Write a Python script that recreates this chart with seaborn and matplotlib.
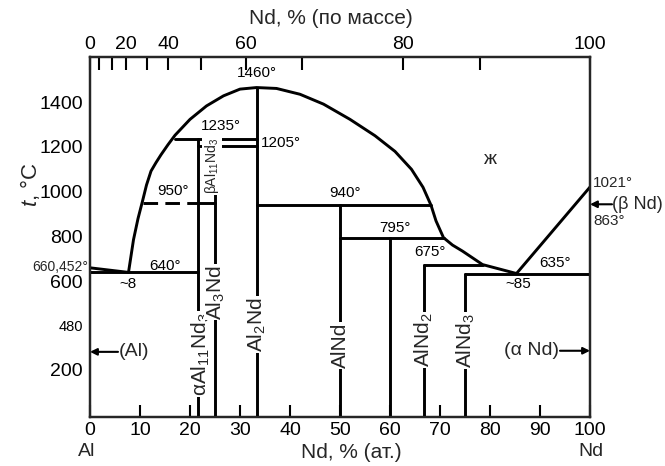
import numpy as np
import pandas as pd
import matplotlib
matplotlib.use("Agg")
import matplotlib.pyplot as plt
import seaborn as sns

sns.set_theme(style="white")
plt.rcParams["font.family"] = ["Liberation Sans", "DejaVu Sans"]
plt.rcParams["mathtext.fontset"] = "custom"
plt.rcParams["mathtext.rm"] = "Liberation Sans"
plt.rcParams["mathtext.it"] = "Liberation Sans:italic"

# ---------------- data ----------------
y_ticks = [200, 480, 600, 800, 1000, 1200, 1400]
y_tick_labels = ["200", "480", "600", "800", "1000", "1200", "1400"]
x_ticks = [0, 10, 20, 30, 40, 50, 60, 70, 80, 90, 100]
x_tick_labels = ["0", "10", "20", "30", "40", "50", "60", "70", "80", "90", "100"]
top_tick_pos = [0, 1.8, 4.34, 7.2, 11.34, 15.66, 22.14, 31.14, 42.46, 62.54, 78, 100]
top_tick_labels = ["0", "", "", "20", "", "40", "", "60", "", "80", "", "100"]

# schematic (piecewise) temperature axis
scale_T = [0, 200, 480, 600, 1600]
scale_p = [0, 47.4, 91, 135, 358.5]

# liquidus
al_liq_x = [0, 7.7]
al_liq_T = [660.452, 640]
liq_x = [7.7, 8.7, 9.6, 10.5, 11.3, 12.2, 13.2, 14.2, 15.6, 17, 20, 23.3, 26.7, 30,
         33.3, 37.3, 42, 46.7, 52, 57, 61, 64.3, 66.6, 68.2, 69.2, 70.7, 72.5, 74.5,
         78.5, 85.3]
liq_T = [640, 786, 880, 958, 1030, 1092, 1130, 1165, 1210, 1252, 1323, 1383, 1428, 1458,
         1465, 1461, 1435, 1391, 1323, 1250, 1180, 1100, 1020, 940, 870, 795, 762, 735,
         675, 635]
nd_liq_x = [85.3, 100]
nd_liq_T = [635, 1021]

# invariant horizontals (solid)
h_T = [640, 1235, 1205, 950, 940, 795, 675, 635]
h_x0 = [0, 17, 21.5, 21.5, 33.3, 50, 66.7, 75]
h_x1 = [21.5, 33.3, 33.3, 25, 68.2, 70.7, 78.5, 100]
# dashed part of 950 transformation
dash_x = [10.5, 21.5]
dash_T = [950, 950]

# compounds (vertical lines)
comp_x = [21.5, 25, 33.3, 50, 60, 66.7, 75]
comp_top = [1235, 1205, 1465, 940, 795, 675, 635]

# ---------------- figure ----------------
fig = plt.figure(figsize=(6.65, 4.66), dpi=100)
ax = fig.add_axes([90 / 665, 1 - 416.7 / 466, 500 / 665, (416.7 - 57.3) / 466])


def fwd(t):
    t = np.asarray(t, dtype=float)
    lo = t * (scale_p[1] / scale_T[1])
    hi = scale_p[-1] + (t - scale_T[-1]) * 0.2235
    mid = np.interp(t, scale_T, scale_p)
    return np.where(t < 0, lo, np.where(t > scale_T[-1], hi, mid))


def inv(p):
    p = np.asarray(p, dtype=float)
    lo = p / (scale_p[1] / scale_T[1])
    hi = scale_T[-1] + (p - scale_p[-1]) / 0.2235
    mid = np.interp(p, scale_p, scale_T)
    return np.where(p < 0, lo, np.where(p > scale_p[-1], hi, mid))


ax.set_yscale("function", functions=(fwd, inv))

rows = []
seg = 0
for xs, ts in [(al_liq_x, al_liq_T), (liq_x, liq_T), (nd_liq_x, nd_liq_T)]:
    for x, t in zip(xs, ts):
        rows.append((seg, x, t))
    seg += 1
for t, a, b in zip(h_T, h_x0, h_x1):
    rows.append((seg, a, t)); rows.append((seg, b, t)); seg += 1
for x, top in zip(comp_x, comp_top):
    rows.append((seg, x, 0)); rows.append((seg, x, top)); seg += 1
df = pd.DataFrame(rows, columns=["seg", "x", "T"])

sns.lineplot(data=df, x="x", y="T", units="seg", estimator=None, sort=False,
             color="black", linewidth=2.1, ax=ax, legend=False)
sns.lineplot(x=dash_x, y=dash_T, color="black", linewidth=2.1, ax=ax,
             linestyle=(0, (5, 2.5)), estimator=None, sort=False, legend=False)

ax.set_xlim(0, 100)
ax.set_ylim(0, 1600)
ax.set_xlabel("")
ax.set_ylabel("")

for s in ax.spines.values():
    s.set_linewidth(1.6)
    s.set_color("black")

ax.set_yticks(y_ticks)
ax.set_yticklabels(y_tick_labels)
ax.set_xticks(x_ticks)
ax.set_xticklabels(x_tick_labels)
ax.tick_params(axis="y", direction="in", length=12, width=1.5, labelsize=14, pad=5,
               colors="black")
ax.tick_params(axis="x", direction="in", length=9, width=1.5, labelsize=14, pad=4,
               colors="black")
for lbl in ax.get_yticklabels():
    if lbl.get_text() == "480":
        lbl.set_fontsize(10.5)

ax2 = ax.twiny()
ax2.set_xlim(0, 100)
ax2.set_xticks(top_tick_pos)
ax2.set_xticklabels(top_tick_labels)
ax2.tick_params(axis="x", direction="in", length=9, width=1.5, labelsize=14, pad=3,
                colors="black")
for s in ax2.spines.values():
    s.set_linewidth(1.6)

# axis titles
fig.text(331 / 665, 1 - 19 / 466, "Nd, % (по массе)", ha="center", va="center", fontsize=15)
fig.text(351 / 665, 1 - 452 / 466, "Nd, % (ат.)", ha="center", va="center", fontsize=15)
fig.text(87 / 665, 1 - 452 / 466, "Al", ha="center", va="center", fontsize=14)
fig.text(591 / 665, 1 - 452 / 466, "Nd", ha="center", va="center", fontsize=14)
fig.text(30 / 665, 1 - 185 / 466, r"$\mathit{t}$, °C", ha="center", va="center",
         fontsize=16, rotation=90)

# temperature annotations
ann = dict(fontsize=11, color="black")
ax.text(33.3, 1532, "1460°", ha="center", va="center", **ann)
ax.text(26.2, 1295, "1235°", ha="center", va="center", **ann)
ax.text(34.2, 1218, "1205°", ha="left", va="center", **ann)
ax.text(16.5, 1003, "950°", ha="center", va="center", **ann)
ax.text(51, 994, "940°", ha="center", va="center", **ann)
ax.text(61, 837, "795°", ha="center", va="center", **ann)
ax.text(68, 733, "675°", ha="center", va="center", **ann)
ax.text(15, 670, "640°", ha="center", va="center", **ann)
ax.text(93, 680, "635°", ha="center", va="center", **ann)
ax.text(7.7, 594, "~8", ha="center", va="center", **ann)
ax.text(85.6, 594, "~85", ha="center", va="center", **ann)
ax.text(-0.4, 666, "660,452°", ha="right", va="center", fontsize=10)
ax.text(100.6, 1041, "1021°", ha="left", va="center", fontsize=11)
ax.text(100.6, 868, "863°", ha="left", va="center", fontsize=11)
ax.text(80, 1146, "ж", ha="center", va="center", fontsize=14)

# phase labels (rotated, masking lines)
box = dict(facecolor="white", edgecolor="none", pad=0.6)
ax.text(22.1, 87, "αAl$_\\mathregular{11}$Nd$_\\mathregular{3}$", rotation=90, ha="center",
        va="bottom", fontsize=15, bbox=box)
ax.text(24.4, 989, "βAl$_\\mathregular{11}$Nd$_\\mathregular{3}$", rotation=90, ha="center",
        va="bottom", fontsize=10, bbox=box)
ax.text(25.2, 496, "Al$_\\mathregular{3}$Nd", rotation=90, ha="center", va="bottom",
        fontsize=15, bbox=box)
ax.text(33.4, 311, "Al$_\\mathregular{2}$Nd", rotation=90, ha="center", va="bottom",
        fontsize=15, bbox=box)
ax.text(50, 208, "AlNd", rotation=90, ha="center", va="bottom", fontsize=15, bbox=box)
ax.text(66.8, 212, "AlNd$_\\mathregular{2}$", rotation=90, ha="center", va="bottom",
        fontsize=15, bbox=box)
ax.text(75.1, 208, "AlNd$_\\mathregular{3}$", rotation=90, ha="center", va="bottom",
        fontsize=15, bbox=box)

# arrows for terminal solid solutions
arr = dict(arrowstyle="-|>", color="black", lw=1.5, mutation_scale=10, shrinkA=0, shrinkB=0)
ax.annotate("", xy=(0, 311), xytext=(5.6, 311), arrowprops=arr, annotation_clip=False)
ax.text(5.7, 311, "(Al)", ha="left", va="center", fontsize=14)
ax.annotate("", xy=(100, 318), xytext=(94, 318), arrowprops=arr, annotation_clip=False)
ax.text(93.9, 318, "(α Nd)", ha="right", va="center", fontsize=14)
ax.annotate("", xy=(100, 944), xytext=(104.4, 944), arrowprops=arr, annotation_clip=False)
ax.text(104.4, 944, "(β Nd)", ha="left", va="center", fontsize=13)

fig.savefig("out.png", dpi=100)
